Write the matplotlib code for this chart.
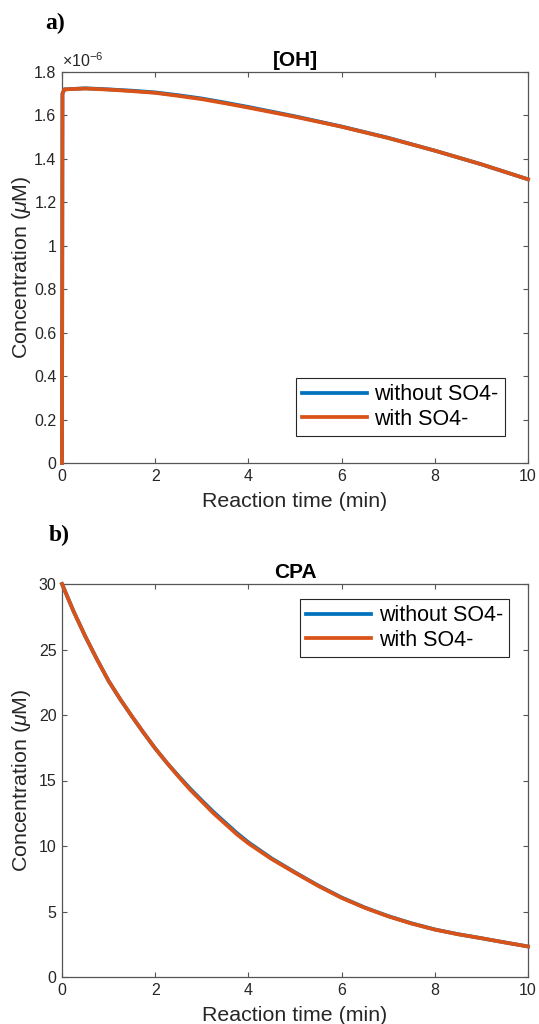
import numpy as np
import matplotlib
matplotlib.use("Agg")
import matplotlib.pyplot as plt

plt.rcParams['font.family'] = ['Liberation Sans', 'DejaVu Sans']
plt.rcParams['mathtext.fontset'] = 'custom'
plt.rcParams['mathtext.rm'] = 'Liberation Sans'
plt.rcParams['mathtext.it'] = 'Liberation Sans:italic'

# [OH] (units of 1e-6 uM)
t_oh = [0, 0.01, 0.05, 0.5, 1, 1.5, 2, 2.5, 3, 3.5, 4, 5, 6, 7, 8, 9, 10]
oh_without = [0, 1.70, 1.72, 1.725, 1.720, 1.714, 1.706, 1.693, 1.678, 1.659, 1.639,
              1.596, 1.549, 1.497, 1.438, 1.375, 1.306]
oh_with = [0, 1.70, 1.72, 1.724, 1.719, 1.712, 1.704, 1.690, 1.675, 1.656, 1.636,
           1.594, 1.548, 1.496, 1.438, 1.375, 1.306]

# CPA (uM)
t_cpa = [0, 0.25, 0.5, 0.75, 1, 1.25, 1.5, 1.75, 2, 2.25, 2.5, 2.75, 3, 3.25, 3.5,
         3.75, 4, 4.5, 5, 5.5, 6, 6.5, 7, 7.5, 8, 8.5, 9, 9.5, 10]
cpa_without = [30, 27.9, 26.0, 24.25, 22.6, 21.2, 19.9, 18.65, 17.45, 16.35, 15.35, 14.38,
               13.48, 12.6, 11.8, 11.0, 10.28, 9.05, 7.99, 6.98, 6.07, 5.3, 4.65,
               4.1, 3.63, 3.27, 2.96, 2.64, 2.33]
cpa_with = [30, 27.9, 26.0, 24.25, 22.6, 21.2, 19.9, 18.65, 17.45, 16.35, 15.3, 14.3,
            13.4, 12.5, 11.7, 10.9, 10.2, 9.0, 7.96, 6.95, 6.04, 5.28, 4.63,
            4.08, 3.62, 3.26, 2.96, 2.64, 2.33]

labels = ['without SO4-', 'with SO4-']
c_blue = '#0072BD'
c_orange = '#D95319'
axcol = '#262626'


def style_axes(ax):
    for s in ax.spines.values():
        s.set_color('#555555')
        s.set_linewidth(0.9)
    ax.tick_params(direction='in', length=3.3, width=0.8, colors='#555555',
                   labelcolor=axcol, labelsize=11.5, top=True, right=True, pad=4)
    ax.set_xlim(0, 10)
    ax.set_xticks([0, 2, 4, 6, 8, 10])
    ax.set_xlabel('Reaction time (min)', fontsize=15.4, color=axcol, labelpad=6)
    ax.set_ylabel(r'Concentration ($\mu$M)', fontsize=15.4, color=axcol)
    ax.yaxis.set_label_coords(-0.062, 0.5)


fig = plt.figure(figsize=(5.39, 10.24), dpi=100)

# ---- a) [OH]
ax1 = fig.add_axes([62/539, 1 - 463/1024, 466/539, 391/1024])
ax1.plot(t_oh, oh_without, color=c_blue, lw=2.7, label=labels[0], zorder=3, clip_on=False)
ax1.plot(t_oh, oh_with, color=c_orange, lw=2.7, label=labels[1], zorder=3, clip_on=False)
ax1.set_ylim(0, 1.8)
ax1.set_yticks(np.arange(0, 1.81, 0.2))
ax1.yaxis.set_major_formatter(plt.FormatStrFormatter('%g'))
style_axes(ax1)
ax1.set_title('[OH]', fontsize=15, fontweight='bold', color='black', pad=4)
ax1.text(0, 1.005, r'$\times$10$^{\mathregular{-6}}$', transform=ax1.transAxes,
         fontsize=11.5, color=axcol, ha='left', va='bottom')
leg1 = ax1.legend(loc='lower right', bbox_to_anchor=(0.9506, 0.0687), borderaxespad=0,
                  fontsize=15.5, fancybox=False, edgecolor=axcol, framealpha=1,
                  handlelength=3.0, handletextpad=0.35, labelspacing=0.15, borderpad=0.3)
leg1.get_frame().set_linewidth(0.8)

# ---- b) CPA
ax2 = fig.add_axes([62/539, 1 - 977/1024, 466/539, 393/1024])
ax2.plot(t_cpa, cpa_without, color=c_blue, lw=2.7, label=labels[0], zorder=3, clip_on=False)
ax2.plot(t_cpa, cpa_with, color=c_orange, lw=2.7, label=labels[1], zorder=3, clip_on=False)
ax2.set_ylim(0, 30)
ax2.set_yticks([0, 5, 10, 15, 20, 25, 30])
style_axes(ax2)
ax2.set_title('CPA', fontsize=15, fontweight='bold', color='black', pad=4)
leg2 = ax2.legend(loc='upper left', bbox_to_anchor=(0.5107, 0.9618), borderaxespad=0,
                  fontsize=15.5, fancybox=False, edgecolor=axcol, framealpha=1,
                  handlelength=3.0, handletextpad=0.35, labelspacing=0.15, borderpad=0.3)
leg2.get_frame().set_linewidth(0.8)

fig.text(45/539, 1 - 23/1024, 'a)', fontsize=17, fontweight='bold',
         family='Liberation Serif', va='center', ha='left')
fig.text(49/539, 1 - 535/1024, 'b)', fontsize=17, fontweight='bold',
         family='Liberation Serif', va='center', ha='left')

fig.savefig('out.png', dpi=100)
